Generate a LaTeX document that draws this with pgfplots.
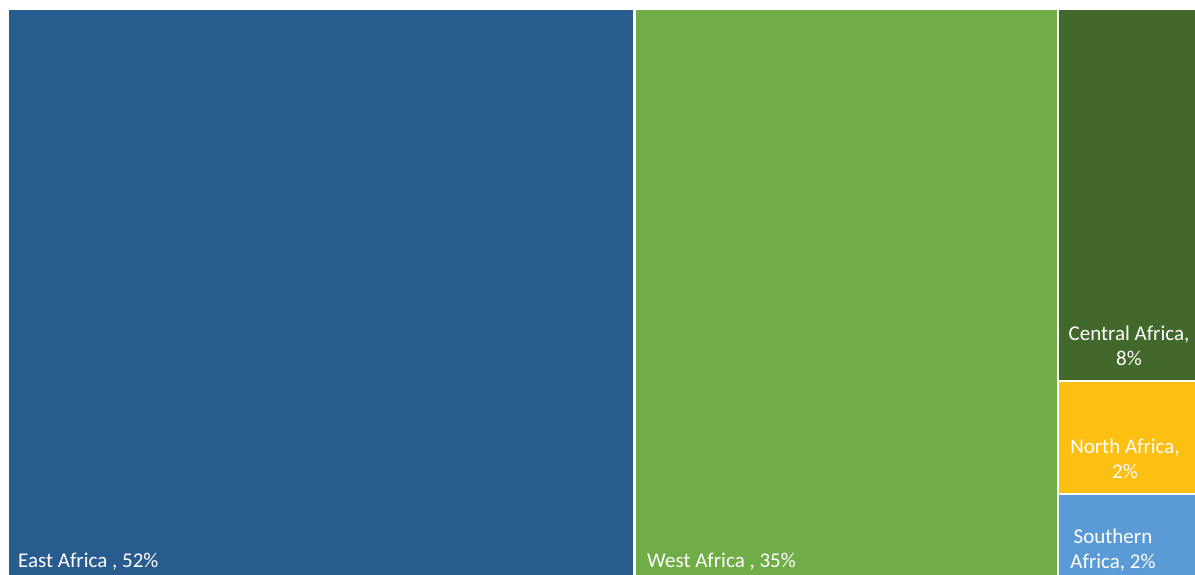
\documentclass[border=0pt]{standalone}
\usepackage{pgfplots}
\pgfplotsset{compat=1.18}
\usepackage{fontspec}
\setmainfont{Carlito}
\definecolor{east}{RGB}{40,92,143}
\definecolor{west}{RGB}{112,173,71}
\definecolor{central}{RGB}{67,104,43}
\definecolor{north}{RGB}{253,191,18}
\definecolor{south}{RGB}{91,155,213}
\begin{document}
\begin{tikzpicture}
\begin{axis}[
  width=1195pt, height=575pt, scale only axis,
  xmin=0, xmax=1195, ymin=0, ymax=575,
  hide axis, clip=false,
]
\path (rel axis cs:0,0) rectangle (rel axis cs:1,1);
% East Africa 52%
\addplot[draw=none, fill=east] coordinates {(9,0) (633,0) (633,565) (9,565)} -- cycle;
% West Africa 35%
\addplot[draw=none, fill=west] coordinates {(636,0) (1057,0) (1057,565) (636,565)} -- cycle;
% Central Africa 8%
\addplot[draw=none, fill=central] coordinates {(1059,195) (1195,195) (1195,565) (1059,565)} -- cycle;
% North Africa 2%
\addplot[draw=none, fill=north] coordinates {(1059,82) (1195,82) (1195,193) (1059,193)} -- cycle;
% Southern Africa 2%
\addplot[draw=none, fill=south] coordinates {(1059,0) (1195,0) (1195,80) (1059,80)} -- cycle;

\node[anchor=base west, text=white, font=\fontsize{21}{24.5}\selectfont, inner sep=0pt] at (axis cs:18,7) {East Africa , 52\%};
\node[anchor=base west, text=white, font=\fontsize{21}{24.5}\selectfont, inner sep=0pt] at (axis cs:647,7) {West Africa , 35\%};
\node[anchor=center, text=white, align=center, font=\fontsize{21}{24.5}\selectfont, inner sep=0pt] at (axis cs:1129,229) {Central Africa,\\8\%};
\node[anchor=center, text=white, align=center, font=\fontsize{21}{24.5}\selectfont, inner sep=0pt] at (axis cs:1125,116) {North Africa,\\2\%};
\node[anchor=center, text=white, align=center, font=\fontsize{21}{24.5}\selectfont, inner sep=0pt] at (axis cs:1113,25) {Southern\\Africa, 2\%};
\end{axis}
\end{tikzpicture}
\end{document}
